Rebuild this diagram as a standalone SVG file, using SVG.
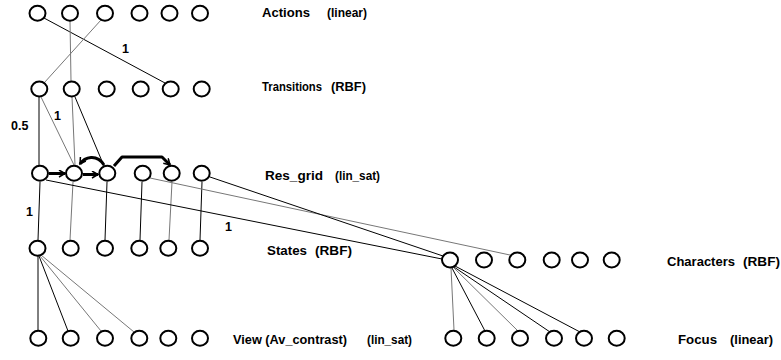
<svg xmlns="http://www.w3.org/2000/svg" width="781" height="360" viewBox="0 0 781 360">
<style>
.lbl{font-family:"Liberation Sans",Arial,sans-serif;font-weight:bold;font-size:12.5px;fill:#000}
.k{stroke:#000;stroke-width:1;fill:none}
.g{stroke:#777;stroke-width:1;fill:none}
.t{stroke:#000;stroke-width:3;fill:none;stroke-linejoin:round}
</style>
<defs>
<marker id="ah" markerUnits="userSpaceOnUse" markerWidth="10" markerHeight="10" refX="7" refY="4" orient="auto">
<path d="M1,0.5 L7,4 L1,7.5" fill="none" stroke="#000" stroke-width="1.5"/>
</marker>
<ellipse id="c" cx="0" cy="0" rx="8" ry="7.5" fill="#fff" stroke="#000" stroke-width="2"/>
</defs>
<g id="connectors">
<line class="k" x1="44" y1="18" x2="165" y2="83"/>
<line class="g" x1="70" y1="21" x2="71" y2="81"/>
<line class="g" x1="101" y1="20" x2="44" y2="83"/>
<line class="k" x1="39" y1="97" x2="39" y2="165"/>
<line class="g" x1="41" y1="97" x2="74" y2="165"/>
<line class="g" x1="72" y1="97" x2="75" y2="165"/>
<line class="k" x1="75" y1="97" x2="104" y2="166"/>
<line class="k" x1="40" y1="182" x2="38" y2="240"/>
<line class="g" x1="73" y1="182" x2="70" y2="240"/>
<line class="k" x1="107" y1="182" x2="105" y2="240"/>
<line class="k" x1="142" y1="182" x2="140" y2="240"/>
<line class="g" x1="172" y1="182" x2="169" y2="240"/>
<line class="k" x1="202" y1="182" x2="200" y2="240"/>
<line class="k" x1="46" y1="180" x2="442" y2="259"/>
<line class="g" x1="150" y1="178" x2="510" y2="255"/>
<line class="k" x1="210" y1="177" x2="443" y2="256"/>
<line class="k" x1="38" y1="256" x2="38" y2="330"/>
<line class="k" x1="39" y1="256" x2="68" y2="331"/>
<line class="g" x1="40" y1="256" x2="101" y2="331"/>
<line class="g" x1="41" y1="255" x2="134" y2="332"/>
<line class="g" x1="451" y1="268" x2="454" y2="330"/>
<line class="k" x1="452" y1="268" x2="485" y2="331"/>
<line class="g" x1="453" y1="267" x2="518" y2="331"/>
<line class="k" x1="454" y1="267" x2="550" y2="332"/>
<line class="k" x1="455" y1="266" x2="580" y2="332"/>
<line class="t" x1="49" y1="173.5" x2="65" y2="173.5" marker-end="url(#ah)"/>
<line class="t" x1="83" y1="174.5" x2="98" y2="174.5" marker-end="url(#ah)"/>
<path class="t" d="M104,165 Q99,157 91,157.5 Q84,158 80,164" marker-end="url(#ah)"/>
<path class="t" d="M114,166 L122,157 L162,157 L170,165" marker-end="url(#ah)"/>
</g>
<g id="actions">
<use href="#c" x="37.5" y="13.3"/><use href="#c" x="70" y="13.3"/><use href="#c" x="105" y="13.3"/><use href="#c" x="139.5" y="13.3"/><use href="#c" x="169.5" y="13.3"/><use href="#c" x="200" y="13.3"/>
</g>
<g id="transitions">
<use href="#c" x="39.3" y="89"/><use href="#c" x="71.7" y="89"/><use href="#c" x="106.7" y="89"/><use href="#c" x="140.7" y="89"/><use href="#c" x="170.7" y="89"/><use href="#c" x="201.7" y="89"/>
</g>
<g id="res_grid">
<use href="#c" x="40" y="173.3"/><use href="#c" x="74" y="173.3"/><use href="#c" x="107.3" y="173.3"/><use href="#c" x="142.7" y="173.3"/><use href="#c" x="171.7" y="173.3"/><use href="#c" x="201.7" y="173.3"/>
</g>
<g id="states">
<use href="#c" x="37.5" y="248.3"/><use href="#c" x="70.7" y="248.3"/><use href="#c" x="105" y="248.3"/><use href="#c" x="139.3" y="248.3"/><use href="#c" x="168.3" y="248.3"/><use href="#c" x="200" y="248.3"/>
</g>
<g id="view">
<use href="#c" x="38.3" y="338.3"/><use href="#c" x="70.7" y="338.3"/><use href="#c" x="105" y="338.3"/><use href="#c" x="139.3" y="338.3"/><use href="#c" x="168.3" y="338.3"/><use href="#c" x="200" y="338.3"/>
</g>
<g id="characters">
<use href="#c" x="450" y="260"/><use href="#c" x="484" y="260"/><use href="#c" x="517.3" y="260"/><use href="#c" x="551.7" y="260"/><use href="#c" x="580" y="260"/><use href="#c" x="611.7" y="260"/>
</g>
<g id="focus">
<use href="#c" x="453.3" y="338.3"/><use href="#c" x="486.7" y="338.3"/><use href="#c" x="520" y="338.3"/><use href="#c" x="554" y="338.3"/><use href="#c" x="584" y="338.3"/><use href="#c" x="616.7" y="338.3"/>
</g>
<g id="labels">
<text class="lbl" x="262" y="17" textLength="48" lengthAdjust="spacingAndGlyphs">Actions</text>
<text class="lbl" x="327" y="17" textLength="40" lengthAdjust="spacingAndGlyphs">(linear)</text>
<text class="lbl" x="262" y="91" textLength="60" lengthAdjust="spacingAndGlyphs">Transitions</text>
<text class="lbl" x="331" y="91" textLength="35" lengthAdjust="spacingAndGlyphs">(RBF)</text>
<text class="lbl" x="265" y="180" textLength="58" lengthAdjust="spacingAndGlyphs">Res_grid</text>
<text class="lbl" x="335" y="180" textLength="45" lengthAdjust="spacingAndGlyphs">(lin_sat)</text>
<text class="lbl" x="267" y="255" textLength="40" lengthAdjust="spacingAndGlyphs">States</text>
<text class="lbl" x="315" y="255" textLength="37" lengthAdjust="spacingAndGlyphs">(RBF)</text>
<text class="lbl" x="233" y="344" textLength="114" lengthAdjust="spacingAndGlyphs">View (Av_contrast)</text>
<text class="lbl" x="367" y="344" textLength="45" lengthAdjust="spacingAndGlyphs">(lin_sat)</text>
<text class="lbl" x="667" y="266" textLength="68" lengthAdjust="spacingAndGlyphs">Characters</text>
<text class="lbl" x="743" y="266" textLength="37" lengthAdjust="spacingAndGlyphs">(RBF)</text>
<text class="lbl" x="678" y="344" textLength="39" lengthAdjust="spacingAndGlyphs">Focus</text>
<text class="lbl" x="730" y="344" textLength="43" lengthAdjust="spacingAndGlyphs">(linear)</text>
<text class="lbl" x="122" y="53">1</text>
<text class="lbl" x="11" y="130">0.5</text>
<text class="lbl" x="54" y="120">1</text>
<text class="lbl" x="26" y="216">1</text>
<text class="lbl" x="225" y="231">1</text>
</g>
</svg>
